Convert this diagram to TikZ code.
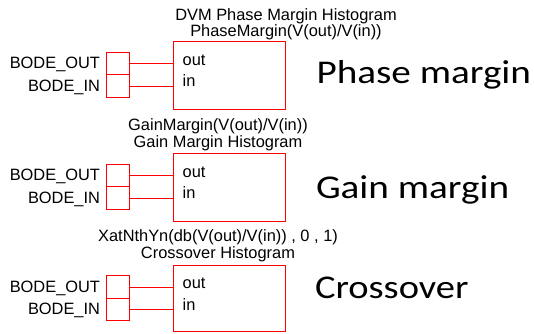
\documentclass[tikz,border=0pt]{standalone}
\usepackage{fontspec}
\setmainfont{Liberation Sans}
\newfontfamily\bigfont{Carlito}
\definecolor{pinred}{RGB}{255,0,0}
\begin{document}
\begin{tikzpicture}[x=1pt,y=-1pt,
  every node/.style={inner sep=0pt,outer sep=0pt},
  pinbox/.style={draw=pinred,line width=0.9pt,minimum width=22.6pt,minimum height=22.5pt},
  mainbox/.style={draw=pinred,line width=0.9pt},
  wire/.style={draw=pinred,line width=0.9pt},
  small/.style={font=\fontsize{16.4}{16.4}\selectfont},
  big/.style={font=\fontsize{33.2}{33.2}\bigfont,anchor=base west}]
\useasboundingbox (0,0) rectangle (534,333);

% ---- block 1 : phase margin ----
\node[pinbox] (po1) at (118,63.5) {};
\node[pinbox] (pi1) at (118,86) {};
\coordinate (m1nw) at (173.5,41.5);
\coordinate (m1se) at (285.5,109);
\draw[mainbox] (m1nw) rectangle (m1se);
\draw[wire] (po1.east) -- (po1.east -| m1nw);
\draw[wire] (pi1.east) -- (pi1.east -| m1nw);
\node[small,anchor=base east] (lo1) at (100,68.5) {BODE\_OUT};
\node[small,anchor=base east] (li1) at (100,91) {BODE\_IN};
\node[small,anchor=base west] (to1) at (182.7,65) {out};
\node[small,anchor=base west] (ti1) at (182.7,86.5) {in};
\node[small,anchor=base] (h1a) at (286,20.3) {DVM Phase Margin Histogram};
\node[small,anchor=base] (h1b) at (286,36.3) {PhaseMargin(V(out)/V(in))};
\node[big] (b1) at (316.5,83) {\scalebox{1.18}[1]{Phase margin}};

% ---- block 2 : gain margin ----
\node[pinbox] (po2) at (118,175.5) {};
\node[pinbox] (pi2) at (118,198) {};
\coordinate (m2nw) at (173.5,153.5);
\coordinate (m2se) at (285.5,221);
\draw[mainbox] (m2nw) rectangle (m2se);
\draw[wire] (po2.east) -- (po2.east -| m2nw);
\draw[wire] (pi2.east) -- (pi2.east -| m2nw);
\node[small,anchor=base east] (lo2) at (100,180.5) {BODE\_OUT};
\node[small,anchor=base east] (li2) at (100,203) {BODE\_IN};
\node[small,anchor=base west] (to2) at (182.7,177) {out};
\node[small,anchor=base west] (ti2) at (182.7,198.5) {in};
\node[small,anchor=base] (h2a) at (218,130.3) {GainMargin(V(out)/V(in))};
\node[small,anchor=base] (h2b) at (218,147) {Gain Margin Histogram};
\node[big] (b2) at (316,198.3) {\scalebox{1.18}[1]{Gain margin}};

% ---- block 3 : crossover ----
\node[pinbox] (po3) at (118,287) {};
\node[pinbox] (pi3) at (118,309.5) {};
\coordinate (m3nw) at (173.5,265);
\coordinate (m3se) at (285.5,331);
\draw[mainbox] (m3nw) rectangle (m3se);
\draw[wire] (po3.east) -- (po3.east -| m3nw);
\draw[wire] (pi3.east) -- (pi3.east -| m3nw);
\node[small,anchor=base east] (lo3) at (100,292) {BODE\_OUT};
\node[small,anchor=base east] (li3) at (100,314.5) {BODE\_IN};
\node[small,anchor=base west] (to3) at (182.7,288.5) {out};
\node[small,anchor=base west] (ti3) at (182.7,310) {in};
\node[small,anchor=base] (h3a) at (218,241.7) {XatNthYn(db(V(out)/V(in)) , 0 , 1)};
\node[small,anchor=base] (h3b) at (218,258.3) {Crossover Histogram};
\node[big] (b3) at (315,298.3) {\scalebox{1.16}[1]{Crossover}};
\end{tikzpicture}
\end{document}
